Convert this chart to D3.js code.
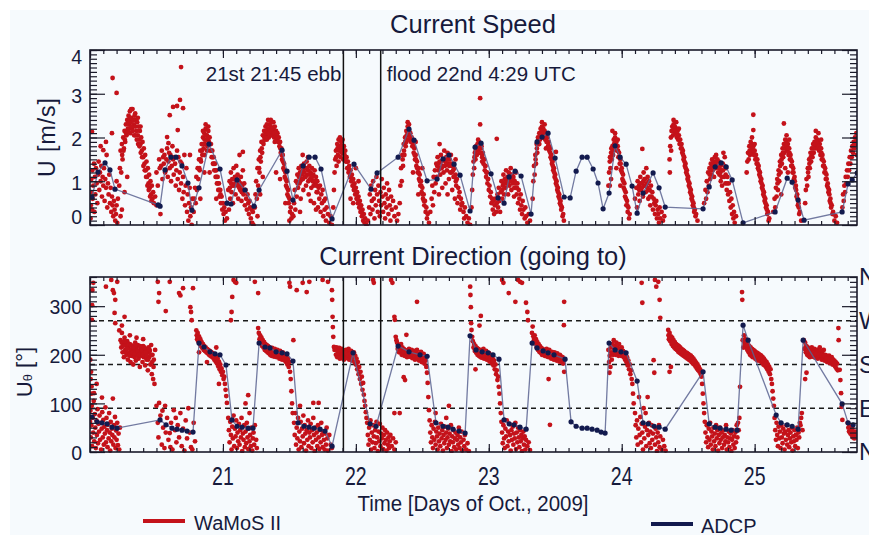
<!DOCTYPE html>
<html>
<head>
<meta charset="utf-8">
<script src="https://cdn.jsdelivr.net/npm/d3@7"></script>
<style>
  html, body { margin: 0; padding: 0; background: #ffffff; }
  svg text { font-family: "Liberation Sans", Arial, Helvetica, sans-serif; fill: #161a3c; }
</style>
</head>
<body>
<svg id="chart" width="869" height="535"></svg>
<script>
// ---------------- data ----------------
// Time axis in days of October 2009.
const dayTicks = [21, 22, 23, 24, 25];
const speedTicks = [0, 1, 2, 3, 4];
const dirTicks = [0, 100, 200, 300];
const compassValues = [360, 270, 180, 90, 0];
const compassLabels = ["N", "W", "S", "E", "N"];
const dirGuides = [90, 180, 270];

// Slack-water events (day + hour/24)
const eventTimes = [21 + 21.75 / 24, 22 + (4 + 29 / 60) / 24];
const eventLabels = ["21st 21:45 ebb", "flood 22nd 4:29 UTC"];

// ADCP current speed [day, m/s]
const adcpSpeed = [
  [20.015,0.64],[20.06,1.21],[20.113,1.42],[20.15,1.26],[20.188,0.82],[20.512,0.46],[20.527,0.43],
  [20.564,1.26],[20.609,1.55],[20.647,1.55],[20.692,1.35],[20.737,0.96],[20.767,0.34],[20.82,0.85],
  [20.895,1.85],[20.978,1.28],[21.031,0.50],[21.061,0.48],[21.106,1.03],[21.166,0.80],[21.234,0.43],
  [21.272,0.80],[21.445,1.71],[21.482,1.23],[21.527,0.57],[21.603,1.35],[21.648,1.55],[21.693,1.55],
  [21.738,1.28],[21.821,0.14],[21.986,1.39],[22.114,0.82],[22.16,1.19],[22.318,1.55],[22.40,2.19],
  [22.438,1.94],[22.536,1.01],[22.611,1.05],[22.656,1.51],[22.701,1.60],[22.739,1.39],[22.784,1.14],
  [22.859,0.32],[22.897,1.78],[22.942,1.87],[23.017,1.17],[23.07,0.62],[23.115,0.50],[23.153,1.10],
  [23.198,1.23],[23.243,1.12],[23.318,0.25],[23.363,1.90],[23.401,2.01],[23.446,2.10],[23.499,1.53],
  [23.567,0.64],[23.612,0.62],[23.657,1.23],[23.702,1.55],[23.74,1.55],[23.785,1.28],[23.822,0.96],
  [23.86,0.37],[23.905,0.73],[23.95,1.81],[23.988,1.55],[24.033,1.39],[24.078,0.89],[24.116,0.27],
  [24.161,0.73],[24.236,1.19],[24.281,0.85],[24.327,0.41],[24.612,0.37],[24.658,0.87],[24.703,1.33],
  [24.748,1.42],[24.786,1.33],[24.831,1.03],[24.913,0.05],[25.154,0.30],[25.245,1.07],[25.282,0.98],
  [25.327,0.57],[25.372,0.11],[25.658,0.30],[25.703,0.94],[25.734,1.03],[25.771,1.19]
];

// ADCP current direction (going to) [day, degrees]
const adcpDir = [
  [20.015,72],[20.053,62],[20.09,60],[20.128,58],[20.166,51],[20.203,49],[20.527,66],[20.572,56],
  [20.617,49],[20.655,47],[20.692,45],[20.73,43],[20.775,41],[20.82,224],[20.858,216],[20.903,206],
  [20.941,202],[20.978,200],[21.023,179],[21.068,66],[21.106,53],[21.144,51],[21.189,49],[21.226,49],
  [21.272,224],[21.317,216],[21.354,214],[21.40,206],[21.445,204],[21.482,202],[21.527,187],[21.565,60],
  [21.61,53],[21.648,51],[21.685,49],[21.731,47],[21.768,43],[21.821,12],[21.979,204],[22.107,58],
  [22.152,53],[22.318,218],[22.40,206],[22.483,200],[22.536,197],[22.603,60],[22.656,53],[22.694,51],
  [22.731,47],[22.777,43],[22.822,39],[22.859,239],[22.904,210],[22.95,206],[22.995,204],[23.032,200],
  [23.077,191],[23.115,66],[23.153,58],[23.19,56],[23.235,51],[23.281,47],[23.326,224],[23.363,214],
  [23.409,208],[23.446,204],[23.491,200],[23.574,191],[23.619,62],[23.657,53],[23.702,49],[23.74,49],
  [23.777,47],[23.815,45],[23.845,41],[23.875,39],[23.905,224],[23.95,210],[23.995,206],[24.033,204],
  [24.116,146],[24.161,60],[24.199,58],[24.244,53],[24.281,51],[24.327,47],[24.612,165],[24.658,58],
  [24.703,51],[24.74,49],[24.786,47],[24.823,45],[24.868,45],[24.913,261],[24.951,230],[25.162,76],
  [25.199,60],[25.245,56],[25.282,53],[25.327,47],[25.365,230],[25.658,99],[25.703,60],[25.741,56]
];

// WaMoS II radar current speed [day, m/s]
const wamosSpeedOct20 = [
  [20.004,0.15],[20.006,0.45],[20.008,0.75],[20.01,1.05],[20.015,2.13],[20.015,0.35],[20.018,1.25],[20.02,0.6],
  [20.025,0.9],[20.03,1.4],[20.033,0.3],[20.037,1.1],[20.04,0.7],[20.045,1.3],[20.05,0.95],[20.055,0.5],
  [20.06,1.15],[20.065,1.45],[20.07,0.8],[20.075,1.2],[20.08,1.0],[20.085,1.35],[20.09,0.65],[20.095,1.1],
  [20.1,0.9],[20.1,1.71],[20.105,1.3],[20.11,0.55],[20.115,1.05],[20.12,0.85],[20.125,1.6],[20.13,0.4],
  [20.135,0.95],[20.14,0.7],[20.145,1.15],[20.15,0.5],[20.155,0.85],[20.16,0.3],[20.165,0.65],[20.165,2.1],
  [20.17,3.36],[20.17,0.45],[20.175,0.2],[20.18,0.55],[20.185,0.35],[20.19,0.1],[20.195,0.25],[20.2,3.02],
  [20.2,0.45],[20.205,0.05],[20.08,1.8],[20.12,1.9],[20.21,0.6],[20.24,0.35],[20.26,0.75],[20.28,1.1],
  [20.23,0.2],[20.2,1.0],
  [20.22,0.9],[20.225,1.3],[20.23,1.7],[20.235,1.2],[20.24,1.85],[20.245,1.5],[20.25,2.0],[20.255,1.75],
  [20.26,2.15],[20.265,1.9],[20.27,2.3],[20.275,2.05],[20.28,2.4],[20.285,2.2],[20.29,2.5],[20.295,2.3],
  [20.3,2.6],[20.305,2.35],[20.31,2.45],[20.315,2.2],[20.32,2.65],[20.325,2.4],[20.33,2.3],[20.335,2.5],
  [20.34,2.25],[20.345,2.4],[20.35,2.15],[20.355,2.35],[20.36,2.05],[20.365,2.25],[20.37,1.95],[20.375,2.15],
  [20.38,1.85],[20.385,2.0],[20.39,1.7],[20.395,1.9],[20.4,1.55],[20.405,1.75],[20.41,1.4],[20.415,1.6],
  [20.42,1.25],[20.425,1.45],[20.43,1.1],[20.435,1.3],[20.44,0.95],[20.445,1.15],[20.45,0.85],[20.455,1.0],
  [20.46,0.7],[20.465,0.9],[20.47,0.6],[20.475,0.75],[20.48,0.5],[20.49,0.65],[20.5,0.45],
  [20.5,1.2],[20.51,0.9],[20.52,1.5],[20.525,1.3],[20.53,0.25],[20.535,1.35],[20.54,1.7],[20.545,1.05],
  [20.55,1.55],[20.555,1.4],[20.56,1.6],[20.565,1.2],[20.57,1.25],[20.575,1.5],[20.58,1.75],[20.585,1.1],
  [20.59,1.45],[20.595,1.65],[20.6,1.3],[20.605,1.6],[20.61,1.0],[20.615,1.35],[20.62,1.8],[20.625,1.5],
  [20.63,1.15],[20.635,1.55],[20.64,1.4],[20.645,0.9],[20.65,1.25],[20.655,1.7],[20.66,1.05],[20.665,1.55],
  [20.67,0.8],[20.675,1.2],[20.68,1.45],[20.685,0.95],[20.69,1.4],[20.695,0.6],[20.7,1.1],[20.705,0.75],
  [20.71,1.6],[20.715,0.45],[20.72,0.9],[20.725,1.3],[20.73,0.3],[20.735,0.7],[20.74,0.1],[20.745,0.5],
  [20.75,0.85],[20.755,0.2],[20.76,0.4],[20.765,0.0],[20.77,0.6],
  [20.58,2.01],[20.6,2.51],[20.625,2.7],[20.655,2.72],[20.66,2.17],[20.677,2.86],[20.685,3.61],[20.7,2.67],
  [20.752,1.6],[20.59,1.87],
  [20.78,0.3],[20.785,0.6],[20.79,0.85],[20.795,0.5],[20.8,1.1],[20.805,0.8],[20.81,1.3],[20.815,1.05],
  [20.82,1.5],[20.825,1.25],[20.83,1.7],[20.835,1.45],[20.84,1.85],[20.845,1.6],[20.85,2.0],[20.855,1.75],
  [20.86,2.1],[20.865,1.85],[20.87,2.2],[20.875,1.95],[20.88,2.05],[20.885,1.8],[20.89,2.15],[20.895,1.9],
  [20.9,2.0],[20.905,1.7],[20.91,1.85],[20.915,1.55],[20.92,1.7],[20.925,1.4],[20.93,1.55],[20.935,1.25],
  [20.94,1.4],[20.945,1.1],[20.95,1.25],[20.955,0.95],[20.96,1.1],[20.965,0.8],[20.97,0.95],[20.975,0.65],
  [20.98,0.8],[20.985,0.5],[20.99,0.65],[20.995,0.35],[20.83,0.6],[20.86,1.2],[20.9,1.2],[20.95,0.6]
];
const wamosSpeedOct21 = [
  [21.0,0.5],[21.005,0.25],[21.01,0.4],[21.015,0.1],[21.02,0.3],[21.03,0.15],
  [21.03,0.5],[21.04,0.8],[21.045,0.35],[21.05,1.0],[21.055,0.6],[21.06,1.2],[21.065,0.75],[21.07,1.05],
  [21.075,0.5],[21.08,1.3],[21.085,0.9],[21.09,1.1],[21.095,0.7],[21.1,1.35],[21.105,0.95],[21.11,1.15],
  [21.115,0.6],[21.12,1.0],[21.125,1.6],[21.13,0.8],[21.135,1.1],[21.14,0.55],[21.145,0.9],[21.15,1.25],
  [21.15,1.67],[21.155,0.7],[21.16,0.95],[21.165,0.45],[21.17,0.8],[21.175,0.6],[21.18,0.35],[21.185,0.7],
  [21.19,0.5],[21.195,0.25],[21.2,0.55],[21.205,0.4],[21.21,0.15],[21.215,0.35],[21.22,0.05],[21.225,0.3],
  [21.23,0.0],
  [21.24,0.4],[21.245,0.7],[21.25,1.0],[21.255,0.6],[21.26,1.3],[21.265,0.9],[21.27,1.5],[21.275,1.2],
  [21.28,1.7],[21.285,1.45],[21.29,1.9],[21.295,1.65],[21.3,2.05],[21.305,1.85],[21.31,2.15],[21.315,1.95],
  [21.32,2.25],[21.325,2.05],[21.33,2.3],[21.335,2.1],[21.34,2.2],[21.345,2.0],[21.35,2.3],[21.355,2.1],
  [21.36,2.25],[21.365,2.05],[21.37,2.35],[21.375,2.15],[21.38,2.2],[21.385,2.0],[21.39,2.25],[21.395,2.05],
  [21.4,2.15],[21.405,1.95],[21.41,2.1],[21.415,1.9],[21.42,2.0],[21.425,1.8],[21.43,1.9],[21.435,1.65],
  [21.44,1.75],[21.445,1.5],[21.45,1.6],[21.455,1.3],[21.46,1.4],[21.465,1.1],[21.47,1.2],[21.475,0.9],
  [21.48,1.0],[21.485,0.7],[21.49,0.8],[21.495,0.5],[21.5,0.6],[21.505,0.3],[21.51,0.4],[21.515,0.15],
  [21.52,0.25],[21.26,0.2],[21.28,0.7],[21.3,1.1],[21.47,0.5],[21.5,0.1],[21.4,1.2],[21.43,1.05],
  [21.53,0.2],[21.535,0.5],[21.54,0.8],[21.545,0.35],[21.55,1.0],[21.555,0.65],[21.56,1.15],[21.565,0.85],
  [21.57,1.3],[21.575,0.95],[21.58,1.2],[21.585,0.6],[21.59,1.35],[21.595,1.05],[21.6,1.25],[21.605,0.8],
  [21.61,1.4],[21.615,1.1],[21.62,1.3],[21.625,0.9],[21.63,1.45],[21.635,1.15],[21.64,1.25],[21.645,0.7],
  [21.65,1.35],[21.655,1.05],[21.66,1.2],[21.665,0.85],[21.67,1.3],[21.675,1.0],[21.68,1.15],[21.685,0.5],
  [21.69,1.25],[21.695,0.95],[21.7,1.1],[21.705,0.75],[21.71,1.0],[21.715,0.4],[21.72,0.85],[21.725,0.6],
  [21.73,0.9],[21.735,0.3],[21.74,0.7],[21.745,0.5],[21.75,0.8],[21.755,0.2],[21.76,0.55],[21.765,0.35],
  [21.77,0.6],[21.775,0.1],[21.78,0.4],[21.79,0.25],[21.8,0.05],[21.81,0.2],[21.82,0.0],
  [21.6,1.6],[21.64,1.55],[21.7,0.35],[21.66,0.55],[21.58,0.3],
  [21.83,0.4],[21.835,0.8],[21.84,1.2],[21.845,1.5],[21.85,1.7],[21.855,1.35],[21.86,1.85],[21.865,1.6],
  [21.87,1.95],[21.875,1.7],[21.88,1.8],[21.885,1.55],[21.89,1.9],[21.895,1.65],[21.9,1.75],[21.905,1.5],
  [21.91,1.8],[21.915,1.6],[21.92,1.7],[21.925,1.45],[21.93,1.55],[21.935,1.3],[21.94,1.45],[21.945,1.2],
  [21.95,1.35],[21.955,1.1],[21.96,1.25],[21.965,1.0],[21.97,1.15],[21.975,0.9],[21.98,1.05],[21.985,0.8],
  [21.99,0.95],[21.995,0.7],[21.96,0.6],[21.98,0.5]
];
const wamosSpeedOct22 = [
  [22.0,0.85],[22.005,0.6],[22.01,0.75],[22.015,0.5],[22.02,0.65],[22.025,0.4],[22.03,0.55],[22.035,0.3],
  [22.04,0.45],[22.045,0.2],[22.05,0.35],[22.055,0.1],[22.06,0.25],[22.065,0.05],[22.07,0.15],[22.08,0.0],
  [22.09,0.1],[22.0,1.3],[22.02,1.0],
  [22.1,0.4],[22.105,0.7],[22.11,0.25],[22.115,0.9],[22.12,0.55],[22.125,0.35],[22.13,1.0],[22.135,0.6],
  [22.14,0.15],[22.145,0.8],[22.15,0.45],[22.155,1.1],[22.16,0.7],[22.165,0.3],[22.17,0.9],[22.175,0.55],
  [22.18,0.2],[22.185,0.75],[22.19,0.45],[22.195,1.05],[22.2,0.65],[22.205,0.3],[22.21,0.85],[22.215,0.5],
  [22.22,0.15],[22.225,0.7],[22.23,0.4],[22.235,0.95],[22.24,0.6],[22.245,0.25],[22.25,0.8],[22.255,0.45],
  [22.26,0.1],[22.265,0.65],[22.27,0.35],[22.28,0.55],[22.29,0.2],[22.3,0.4],[22.31,0.1],[22.32,0.25],
  [22.33,0.5],[22.335,0.9],[22.34,1.3],[22.345,1.0],[22.35,1.6],[22.355,1.35],[22.36,1.85],[22.365,1.6],
  [22.37,2.0],[22.375,1.8],[22.38,2.15],[22.385,1.95],[22.39,2.25],[22.395,2.05],[22.4,2.15],[22.405,1.95],
  [22.41,2.1],[22.415,1.9],[22.42,2.0],[22.425,1.8],[22.43,1.9],[22.435,1.65],[22.44,1.75],[22.445,1.5],
  [22.45,1.6],[22.455,1.35],[22.46,1.45],[22.465,1.2],[22.47,1.3],[22.475,1.05],[22.48,1.15],[22.485,0.9],
  [22.49,1.0],[22.495,0.75],[22.5,0.85],[22.505,0.6],[22.51,0.7],[22.515,0.45],[22.52,0.55],[22.525,0.3],
  [22.53,0.4],[22.535,0.15],[22.54,0.25],[22.55,0.05],[22.43,1.2],[22.47,0.7],[22.45,1.9],[22.5,1.3],
  [22.56,0.3],[22.57,0.6],[22.575,0.9],[22.58,0.45],[22.585,1.1],[22.59,0.75],[22.595,1.25],[22.6,0.95],
  [22.605,1.4],[22.61,1.1],[22.615,1.55],[22.62,1.25],[22.625,0.7],[22.63,1.45],[22.635,1.15],[22.64,1.6],
  [22.645,1.3],[22.65,0.85],[22.655,1.5],[22.66,1.2],[22.665,1.7],[22.67,1.35],[22.675,0.95],[22.68,1.55],
  [22.685,1.25],[22.69,1.65],[22.695,1.4],[22.7,1.05],[22.705,1.5],[22.71,1.2],[22.715,1.6],[22.72,1.35],
  [22.725,0.8],[22.73,1.4],[22.735,1.1],[22.74,1.3],[22.745,0.6],[22.75,1.15],[22.755,0.9],[22.76,1.05],
  [22.765,0.5],[22.77,0.85],[22.775,0.65],[22.78,0.75],[22.785,0.35],[22.79,0.6],[22.795,0.45],[22.8,0.5],
  [22.81,0.3],[22.815,0.15],[22.82,0.4],[22.83,0.2],[22.84,0.05],[22.85,0.15],[22.86,0.0],
  [22.63,1.85],[22.69,0.7],[22.75,1.5],
  [22.87,0.4],[22.875,0.8],[22.88,1.15],[22.885,1.45],[22.89,1.3],[22.895,1.65],[22.9,1.5],[22.905,1.8],
  [22.91,1.6],[22.915,1.85],[22.92,1.7],[22.925,1.9],[22.93,1.75],[22.935,1.85],[22.94,1.65],[22.945,1.8],
  [22.95,1.55],[22.955,1.65],[22.96,1.4],[22.965,1.5],[22.97,1.25],[22.975,1.35],[22.98,1.1],[22.985,1.2],
  [22.99,0.95],[22.995,1.05],[22.935,2.9],[22.935,2.3]
];
const wamosSpeedOct23 = [
  [23.0,0.8],[23.005,0.9],[23.01,0.65],[23.06,1.97],
  [23.015,0.75],[23.02,0.5],[23.025,0.6],[23.03,0.35],[23.035,0.55],[23.04,0.25],[23.045,0.45],[23.05,0.6],
  [23.055,0.3],[23.06,0.5],[23.065,0.7],[23.07,0.4],[23.075,0.85],[23.08,0.55],[23.085,0.3],[23.09,0.75],
  [23.095,1.0],[23.1,0.6],[23.105,0.9],[23.11,1.15],[23.115,0.7],[23.12,1.05],[23.125,0.85],[23.13,1.25],
  [23.135,0.95],[23.14,1.1],[23.145,0.7],[23.15,1.2],[23.155,0.9],[23.16,1.05],[23.165,1.3],[23.17,0.8],
  [23.175,1.15],[23.18,0.95],[23.185,1.1],[23.19,0.65],[23.195,1.0],[23.2,0.85],[23.205,1.2],[23.21,0.7],
  [23.215,0.95],[23.22,0.5],[23.225,0.8],[23.23,0.6],[23.235,0.35],[23.24,0.7],[23.245,0.45],[23.25,0.25],
  [23.255,0.55],[23.26,0.35],[23.27,0.15],[23.275,0.4],[23.28,0.2],[23.29,0.05],[23.3,0.25],[23.31,0.1],
  [23.33,0.6],[23.335,1.0],[23.34,1.35],[23.345,1.15],[23.35,1.6],[23.355,1.4],[23.36,1.85],[23.365,1.65],
  [23.37,2.0],[23.375,1.85],[23.38,2.1],[23.385,1.95],[23.39,2.2],[23.395,2.0],[23.4,2.25],[23.405,2.05],
  [23.41,2.2],[23.415,2.0],[23.42,2.15],[23.425,1.95],[23.43,2.1],[23.435,1.9],[23.44,2.0],[23.445,1.8],
  [23.45,1.9],[23.455,1.7],[23.46,1.75],[23.465,1.55],[23.47,1.6],[23.475,1.4],[23.48,1.45],[23.485,1.25],
  [23.49,1.3],[23.495,1.1],[23.5,1.15],[23.505,0.95],[23.51,1.0],[23.515,0.8],[23.52,0.85],[23.525,0.65],
  [23.53,0.7],[23.535,0.5],[23.54,0.55],[23.545,0.35],[23.55,0.4],[23.555,0.2],[23.56,0.25],[23.565,0.1],
  [23.505,1.67],[23.43,1.75],
  [23.9,0.9],[23.905,1.2],[23.91,1.45],[23.915,1.3],[23.92,1.65],[23.925,1.5],[23.93,1.8],[23.935,1.6],
  [23.94,1.95],[23.945,1.75],[23.95,2.0],[23.955,1.8],[23.96,1.9],[23.965,1.7],[23.97,1.8],[23.975,1.55],
  [23.98,1.65],[23.985,1.4],[23.99,1.5],[23.995,1.25],[23.91,0.9],[23.92,1.05],[23.96,1.3],[23.99,0.9],
  [23.93,2.15]
];
const wamosSpeedOct24 = [
  [24.0,1.3],[24.005,1.05],[24.01,1.15],[24.015,0.85],[24.02,0.95],[24.025,0.65],[24.03,0.75],[24.035,0.45],
  [24.04,0.55],[24.045,0.3],[24.05,0.4],[24.055,0.15],[24.06,0.25],
  [24.1,0.6],[24.11,0.85],[24.115,0.4],[24.12,1.0],[24.125,0.7],[24.13,0.9],[24.135,0.55],[24.14,1.1],
  [24.145,0.8],[24.15,0.95],[24.155,1.74],[24.16,0.65],[24.165,1.2],[24.17,0.9],[24.175,1.05],[24.18,0.75],
  [24.185,1.3],[24.19,0.95],[24.195,1.1],[24.2,0.6],[24.205,1.0],[24.21,0.8],[24.215,0.45],[24.22,0.9],
  [24.225,0.65],[24.23,0.75],[24.235,0.35],[24.24,0.6],[24.245,0.5],[24.25,0.25],[24.255,0.45],[24.26,0.55],
  [24.265,0.15],[24.27,0.35],[24.275,0.25],[24.28,0.05],[24.285,0.4],[24.29,0.15],[24.3,0.3],[24.31,0.1],
  [24.32,0.2],
  [24.36,1.5],[24.362,1.2],[24.365,1.8],[24.37,2.0],[24.372,1.7],[24.375,2.15],[24.38,2.25],[24.385,2.05],
  [24.39,2.3],[24.395,2.15],[24.4,2.25],[24.405,2.1],[24.41,2.2],[24.415,2.0],[24.42,2.15],[24.425,1.95],
  [24.43,2.05],[24.435,1.85],[24.44,1.95],[24.445,1.75],[24.45,1.85],[24.455,1.65],[24.46,1.7],[24.465,1.5],
  [24.47,1.55],[24.475,1.35],[24.48,1.4],[24.485,1.2],[24.49,1.25],[24.495,1.05],[24.5,1.1],[24.505,0.9],
  [24.51,0.95],[24.515,0.75],[24.52,0.8],[24.525,0.6],[24.53,0.65],[24.535,0.45],[24.54,0.5],[24.545,0.3],
  [24.55,0.35],[24.555,0.2],[24.56,0.25],[24.57,0.1],
  [24.62,0.5],[24.63,0.8],[24.635,0.6],[24.64,1.0],[24.645,0.75],[24.65,1.2],[24.655,0.9],[24.66,1.3],
  [24.665,1.05],[24.67,1.4],[24.675,1.15],[24.68,1.5],[24.685,1.25],[24.69,1.45],[24.695,1.1],[24.7,1.55],
  [24.705,1.3],[24.71,1.6],[24.715,1.35],[24.72,1.5],[24.725,1.2],[24.73,1.45],[24.735,1.15],[24.74,1.35],
  [24.745,1.0],[24.75,1.25],[24.755,0.9],[24.76,1.4],[24.765,1.65],[24.77,1.1],[24.775,1.55],[24.78,0.95],
  [24.785,1.3],[24.79,0.8],[24.795,1.1],[24.8,0.7],[24.805,0.95],[24.81,0.55],[24.815,0.75],[24.82,0.4],
  [24.825,0.6],[24.83,0.25],[24.835,0.45],[24.84,0.15],[24.845,0.3],[24.85,0.05],[24.86,0.2],
  [24.94,1.2],[24.945,1.45],[24.95,1.65],[24.955,1.5],[24.96,1.8],[24.965,1.6],[24.97,1.9],[24.975,1.7],
  [24.98,1.85],[24.985,1.65],[24.99,1.8],[24.995,1.6],[24.99,2.52],[24.99,2.17]
];
const wamosSpeedOct25 = [
  [25.0,1.7],[25.005,1.5],[25.01,1.6],[25.015,1.4],[25.02,1.5],[25.025,1.3],[25.03,1.35],[25.035,1.15],
  [25.04,1.2],[25.045,1.0],[25.05,1.05],[25.055,0.85],[25.06,0.9],[25.065,0.7],[25.07,0.75],[25.075,0.55],
  [25.08,0.6],[25.085,0.4],[25.09,0.45],[25.095,0.25],[25.1,0.3],[25.105,0.1],[25.11,0.15],
  [25.14,0.3],[25.15,0.6],[25.155,0.4],[25.16,0.85],[25.165,0.65],[25.17,1.05],[25.175,0.8],[25.18,1.25],
  [25.185,1.0],[25.19,1.45],[25.195,1.2],[25.2,1.6],[25.205,1.4],[25.21,1.75],[25.215,1.55],[25.22,1.85],
  [25.225,1.65],[25.23,1.95],[25.235,1.75],[25.24,1.9],[25.245,1.7],[25.25,1.85],[25.255,1.6],[25.26,1.75],
  [25.265,1.5],[25.27,1.6],[25.275,1.35],[25.28,1.45],[25.285,1.2],[25.29,1.3],[25.295,1.05],[25.3,1.1],
  [25.305,0.85],[25.31,0.9],[25.315,0.65],[25.32,0.7],[25.325,0.45],[25.33,0.5],[25.335,0.25],[25.34,0.3],
  [25.35,0.1],[25.22,2.32],[25.2,0.7],[25.25,1.2],[25.23,1.3],
  [25.38,0.5],[25.385,0.8],[25.39,1.05],[25.395,0.9],[25.4,1.3],[25.405,1.1],[25.41,1.5],[25.415,1.3],
  [25.42,1.65],[25.425,1.45],[25.43,1.75],[25.435,1.55],[25.44,1.85],[25.445,1.65],[25.45,1.9],[25.455,1.75],
  [25.46,2.0],[25.465,1.8],[25.47,1.95],[25.475,1.75],[25.48,1.9],[25.485,1.7],[25.49,1.85],[25.495,1.6],
  [25.5,1.75],[25.505,1.5],[25.51,1.6],[25.515,1.35],[25.52,1.45],[25.525,1.2],[25.53,1.3],[25.535,1.05],
  [25.54,1.15],[25.545,0.9],[25.55,0.95],[25.555,0.75],[25.56,0.8],[25.565,0.55],[25.57,0.6],[25.575,0.4],
  [25.58,0.45],[25.585,0.25],[25.59,0.3],[25.6,0.1],[25.61,0.2],[25.62,0.05],
  [25.66,0.4],[25.665,0.7],[25.67,0.55],[25.675,0.9],[25.68,0.75],[25.685,1.1],[25.69,0.95],[25.695,1.25],
  [25.7,1.1],[25.705,1.4],[25.71,1.25],[25.715,1.55],[25.72,1.4],[25.725,1.7],[25.73,1.55],[25.735,1.8],
  [25.74,1.65],[25.745,1.9],[25.75,1.75],[25.755,2.0],[25.76,1.85],[25.765,2.1],[25.768,1.6],[25.77,1.95]
];
// Additional WaMoS II speed samples filling the body of each tidal cycle
const wamosSpeedMore = [
  [20.242,1.6],[20.252,1.7],[20.262,1.95],[20.272,2.1],[20.282,2.15],[20.292,2.2],[20.302,2.1],[20.312,2.25],
  [20.322,2.15],[20.332,2.05],[20.342,2.05],[20.352,1.95],[20.362,1.85],[20.372,1.8],[20.382,1.65],[20.392,1.55],
  [20.402,1.35],[20.412,1.25],[20.422,1.1],[20.432,0.9],[20.442,0.8],[20.452,0.65],[20.462,0.55],[20.3,2.45],
  [20.31,2.65],[20.29,2.35],[20.34,2.55],[20.36,2.45],[20.38,2.25],
  [20.822,1.3],[20.832,1.5],[20.842,1.7],[20.852,1.85],[20.862,1.95],[20.872,2.05],[20.882,1.95],[20.892,2.0],
  [20.902,1.85],[20.912,1.7],[20.922,1.55],[20.932,1.4],[20.942,1.25],[20.952,1.1],[20.962,0.95],[20.972,0.8],
  [20.982,0.7],[20.85,2.15],[20.87,2.3],[20.89,2.25],[20.86,1.6],[20.88,1.7],
  [21.052,0.85],[21.062,0.95],[21.072,0.9],[21.082,1.05],[21.092,0.95],[21.102,1.1],[21.112,0.9],[21.122,0.85],
  [21.132,0.95],[21.142,0.75],[21.152,0.8],
  [21.272,1.3],[21.282,1.55],[21.292,1.75],[21.302,1.9],[21.312,2.0],[21.322,2.1],[21.332,2.15],[21.342,2.1],
  [21.352,2.2],[21.362,2.15],[21.372,2.2],[21.382,2.1],[21.392,2.1],[21.402,2.05],[21.412,2.0],[21.422,1.9],
  [21.432,1.75],[21.442,1.6],[21.452,1.45],[21.462,1.25],[21.472,1.05],[21.482,0.85],[21.492,0.65],[21.34,2.4],
  [21.36,2.4],[21.38,2.35],[21.33,1.95],[21.39,1.9],
  [21.562,0.95],[21.572,1.1],[21.582,1.0],[21.592,1.15],[21.602,1.05],[21.612,1.2],[21.622,1.1],[21.632,1.3],
  [21.642,1.0],[21.652,1.15],[21.662,1.05],[21.672,1.1],[21.682,0.9],[21.692,1.0],[21.702,0.9],[21.712,0.75],
  [21.852,1.55],[21.862,1.75],[21.872,1.8],[21.882,1.7],[21.892,1.8],[21.902,1.65],[21.912,1.7],[21.922,1.55],
  [21.932,1.45],[21.942,1.3],[21.952,1.25],[21.962,1.1],[21.972,1.05],[21.982,0.9],[21.992,0.85],[22.002,0.7],
  [22.012,0.6],[22.022,0.5],[22.032,0.4],[22.042,0.3],[21.88,2.0],[21.9,1.95],[21.87,1.45],
  [22.352,1.5],[22.362,1.7],[22.372,1.9],[22.382,2.05],[22.392,2.1],[22.402,2.05],[22.412,2.0],[22.422,1.9],
  [22.432,1.8],[22.442,1.6],[22.452,1.5],[22.462,1.3],[22.472,1.2],[22.482,1.0],[22.492,0.9],[22.502,0.7],
  [22.512,0.55],[22.39,2.35],[22.4,2.3],[22.38,1.9],
  [22.612,1.35],[22.622,1.4],[22.632,1.3],[22.642,1.45],[22.652,1.35],[22.662,1.5],[22.672,1.45],[22.682,1.4],
  [22.692,1.5],[22.702,1.35],[22.712,1.4],[22.722,1.2],[22.732,1.25],[22.742,1.1],[22.752,1.0],
  [22.892,1.55],[22.902,1.7],[22.912,1.75],[22.922,1.8],[22.932,1.65],[22.942,1.75],[22.952,1.6],[22.962,1.5],
  [22.972,1.35],[22.982,1.2],[22.992,1.05],[22.92,1.95],[22.95,1.45],
  [23.102,0.8],[23.112,0.95],[23.122,0.95],[23.132,1.05],[23.142,0.95],[23.152,1.0],[23.162,1.15],[23.172,1.0],
  [23.182,1.05],[23.192,0.85],[23.202,0.95],[23.212,0.85],
  [23.352,1.5],[23.362,1.75],[23.372,1.95],[23.382,2.0],[23.392,2.1],[23.402,2.15],[23.412,2.1],[23.422,2.05],
  [23.432,2.0],[23.442,1.9],[23.452,1.8],[23.462,1.65],[23.472,1.5],[23.482,1.35],[23.492,1.2],[23.502,1.05],
  [23.512,0.9],[23.522,0.75],[23.532,0.6],[23.542,0.45],[23.4,2.35],[23.42,2.3],[23.38,1.85],
  [23.912,1.55],[23.922,1.75],[23.932,1.7],[23.942,1.85],[23.952,1.9],[23.962,1.8],[23.972,1.7],[23.982,1.55],
  [23.992,1.4],[24.002,1.2],[24.012,1.0],[24.022,0.8],[24.032,0.6],[24.042,0.45],[23.95,2.1],[23.97,1.95],
  [24.122,0.85],[24.132,0.8],[24.142,0.95],[24.152,0.85],[24.162,1.0],[24.172,1.05],[24.182,0.9],[24.192,0.85],
  [24.202,0.8],[24.212,0.65],
  [24.382,2.15],[24.392,2.2],[24.402,2.15],[24.412,2.1],[24.422,2.05],[24.432,1.95],[24.442,1.85],[24.452,1.75],
  [24.462,1.6],[24.472,1.45],[24.482,1.3],[24.492,1.15],[24.502,1.0],[24.512,0.85],[24.522,0.7],[24.532,0.55],
  [24.542,0.4],[24.39,2.4],[24.41,2.35],[24.43,2.2],
  [24.662,1.15],[24.672,1.25],[24.682,1.35],[24.692,1.3],[24.702,1.4],[24.712,1.45],[24.722,1.35],[24.732,1.3],
  [24.742,1.2],[24.752,1.1],[24.762,1.25],[24.772,1.35],[24.782,1.15],[24.792,0.95],
  [24.962,1.7],[24.972,1.8],[24.982,1.75],[24.992,1.7],[25.002,1.6],[25.012,1.5],[25.022,1.4],[25.032,1.25],
  [25.042,1.1],[25.052,0.95],[25.062,0.8],[25.072,0.65],[25.082,0.5],[25.092,0.35],[24.98,2.0],[25.0,1.85],
  [25.172,0.95],[25.182,1.15],[25.192,1.35],[25.202,1.5],[25.212,1.65],[25.222,1.75],[25.232,1.85],[25.242,1.8],
  [25.252,1.75],[25.262,1.65],[25.272,1.5],[25.282,1.35],[25.292,1.2],[25.302,1.0],[25.312,0.8],[25.322,0.6],
  [25.332,0.4],[25.24,2.05],[25.26,1.95],
  [25.402,1.2],[25.412,1.4],[25.422,1.55],[25.432,1.65],[25.442,1.75],[25.452,1.85],[25.462,1.9],[25.472,1.85],
  [25.482,1.8],[25.492,1.75],[25.502,1.65],[25.512,1.5],[25.522,1.35],[25.532,1.2],[25.542,1.05],[25.552,0.85],
  [25.562,0.7],[25.572,0.5],[25.46,2.15],[25.48,2.1],[25.5,1.95]
];

// WaMoS II radar current direction [day, degrees]
const wamosDirOct20 = [
  [20.0,62],[20.003,85],[20.006,30],[20.01,55],[20.013,95],[20.016,12],[20.02,70],[20.024,40],[20.028,105],
  [20.032,22],[20.036,78],[20.04,50],[20.044,8],[20.048,65],[20.052,35],[20.056,88],[20.06,18],[20.064,58],
  [20.068,42],[20.072,75],[20.076,25],[20.08,60],[20.084,5],[20.088,48],[20.092,82],[20.096,30],[20.1,66],
  [20.104,15],[20.108,52],[20.112,38],[20.116,92],[20.12,20],[20.124,70],[20.128,45],[20.132,10],[20.136,56],
  [20.14,28],[20.144,80],[20.148,40],[20.152,3],[20.156,62],[20.16,22],[20.164,48],[20.168,35],[20.172,110],
  [20.176,15],[20.18,55],[20.184,30],[20.188,72],[20.192,8],[20.196,44],[20.2,25],[20.205,60],[20.21,14],
  [20.215,38],[20.22,5],[20.225,50],
  [20.005,150],[20.008,165],[20.012,135],[20.014,272],[20.016,302],[20.018,333],[20.025,348],[20.03,121],
  [20.05,140],[20.09,112],[20.12,340],[20.16,354],[20.172,333],[20.18,327],[20.19,313],[20.185,286],
  [20.19,265],[20.205,350],[20.26,278],[20.002,190],[20.01,120],
  [20.23,230],[20.235,215],[20.24,245],[20.245,205],[20.25,225],[20.255,195],[20.26,235],[20.265,210],
  [20.27,220],[20.275,200],[20.28,228],[20.285,190],[20.29,215],[20.295,205],[20.3,222],[20.305,185],
  [20.31,210],[20.315,198],[20.32,218],[20.325,180],[20.33,208],[20.335,195],[20.34,225],[20.345,188],
  [20.35,212],[20.355,200],[20.36,220],[20.365,192],[20.37,208],[20.375,175],[20.38,215],[20.385,198],
  [20.39,205],[20.395,185],[20.4,218],[20.405,195],[20.41,210],[20.415,178],[20.42,212],[20.425,190],
  [20.43,205],[20.435,168],[20.44,215],[20.445,195],[20.45,208],[20.455,180],[20.46,220],[20.465,160],
  [20.47,200],[20.475,150],[20.48,190],[20.485,140],[20.49,210],[20.24,260],[20.22,250],
  [20.5,95],[20.51,60],[20.515,30],[20.52,101],[20.53,75],[20.54,15],[20.545,85],[20.55,50],[20.56,8],
  [20.565,95],[20.57,40],[20.58,70],[20.59,25],[20.6,39],[20.605,10],[20.61,60],[20.62,5],[20.63,86],
  [20.64,45],[20.645,70],[20.65,20],[20.66,55],[20.67,30],[20.68,80],[20.69,12],[20.7,48],[20.71,3],
  [20.72,65],[20.73,28],[20.74,90],[20.75,40],[20.76,10],[20.77,5],[20.78,60],[20.79,22],
  [20.51,350],[20.52,327],[20.515,309],[20.6,350],[20.67,327],[20.7,337],[20.68,322],[20.755,298],
  [20.76,288],[20.765,271],[20.775,337],[20.57,290],
  [20.8,250],[20.803,240],[20.806,232],[20.81,245],[20.815,228],[20.82,238],[20.825,222],[20.83,232],
  [20.835,218],[20.84,226],[20.845,214],[20.85,222],[20.855,210],[20.86,218],[20.865,208],[20.87,215],
  [20.875,205],[20.88,212],[20.885,203],[20.89,210],[20.895,200],[20.9,208],[20.905,198],[20.91,206],
  [20.915,196],[20.92,204],[20.925,194],[20.93,202],[20.935,190],[20.94,200],[20.945,186],[20.95,196],
  [20.955,182],[20.96,192],[20.965,176],[20.97,186],[20.975,170],[20.98,180],[20.985,165],[20.99,172],
  [20.995,158],[20.88,185],[20.95,215],[20.97,140],[20.82,205]
];
const wamosDirOct21 = [
  [21.0,165],[21.005,150],[21.01,155],[21.015,140],[21.02,128],[21.025,115],[21.03,101],
  [21.04,70],[21.045,45],[21.05,20],[21.055,62],[21.06,35],[21.065,5],[21.07,52],[21.075,28],[21.08,75],
  [21.085,12],[21.09,48],[21.095,32],[21.1,65],[21.105,8],[21.11,40],[21.115,22],[21.12,58],[21.125,15],
  [21.13,45],[21.135,30],[21.14,70],[21.145,2],[21.15,38],[21.155,25],[21.16,55],[21.165,10],[21.17,42],
  [21.175,18],[21.18,60],[21.185,30],[21.19,6],[21.195,48],[21.2,22],[21.205,35],[21.21,12],[21.215,50],
  [21.22,3],[21.225,28],[21.23,40],[21.235,15],[21.24,55],[21.25,25],[21.255,8],
  [21.065,288],[21.06,271],[21.07,319],[21.08,354],[21.09,350],[21.1,348],[21.19,117],[21.2,80],
  [21.24,350],[21.265,327],[21.17,100],
  [21.265,255],[21.27,245],[21.275,232],[21.28,240],[21.285,225],[21.29,235],[21.295,218],[21.3,230],
  [21.305,215],[21.31,226],[21.315,210],[21.32,222],[21.325,208],[21.33,220],[21.335,205],[21.34,218],
  [21.345,203],[21.35,215],[21.355,200],[21.36,212],[21.365,198],[21.37,214],[21.375,202],[21.38,210],
  [21.385,196],[21.39,212],[21.395,200],[21.4,208],[21.405,195],[21.41,210],[21.415,198],[21.42,206],
  [21.425,192],[21.43,208],[21.435,196],[21.44,204],[21.445,190],[21.45,205],[21.455,193],[21.46,202],
  [21.465,188],[21.47,200],[21.475,185],[21.48,198],[21.485,180],[21.49,192],[21.495,175],[21.5,185],
  [21.505,165],[21.51,150],[21.515,125],[21.52,100],[21.525,80],[21.53,230],[21.5,348],[21.505,340],
  [21.535,60],[21.54,35],[21.545,80],[21.55,15],[21.555,50],[21.56,28],[21.565,70],[21.57,5],[21.575,42],
  [21.58,22],[21.585,62],[21.59,10],[21.595,48],[21.6,32],[21.605,75],[21.61,18],[21.615,55],[21.62,38],
  [21.625,3],[21.63,45],[21.635,25],[21.64,65],[21.645,12],[21.65,40],[21.655,30],[21.66,58],[21.665,8],
  [21.67,45],[21.675,20],[21.68,70],[21.685,35],[21.69,2],[21.695,50],[21.7,25],[21.705,40],[21.71,12],
  [21.715,55],[21.72,30],[21.725,6],[21.73,45],[21.735,20],[21.74,60],[21.745,35],[21.75,10],[21.755,42],
  [21.76,25],[21.765,5],[21.77,38],[21.775,15],[21.78,50],[21.785,28],[21.79,3],[21.8,35],[21.81,15],
  [21.82,8],
  [21.555,333],[21.6,348],[21.63,329],[21.65,350],[21.68,101],[21.72,101],[21.75,354],[21.79,350],
  [21.82,333],[21.822,313],[21.825,278],[21.827,257],[21.83,237],[21.835,216],[21.84,210],[21.58,95],
  [21.845,212],[21.85,200],[21.855,215],[21.86,195],[21.865,208],[21.87,198],[21.875,214],[21.88,192],
  [21.885,205],[21.89,200],[21.895,212],[21.9,195],[21.905,208],[21.91,190],[21.915,204],[21.92,198],
  [21.925,210],[21.93,193],[21.935,205],[21.94,198],[21.945,212],[21.95,190],[21.955,203],[21.96,196],
  [21.965,208],[21.97,188],[21.975,200],[21.98,195],[21.985,205],[21.99,185],[21.995,198]
];
const wamosDirOct22 = [
  [22.0,180],[22.005,192],[22.01,170],[22.015,185],[22.02,160],[22.025,175],[22.03,150],[22.035,165],
  [22.04,140],[22.045,155],[22.05,128],[22.055,142],[22.06,118],[22.065,105],[22.07,95],[22.075,82],
  [22.08,70],
  [22.085,60],[22.09,35],[22.095,15],[22.1,50],[22.105,25],[22.11,65],[22.115,5],[22.12,40],[22.125,20],
  [22.13,55],[22.135,32],[22.14,8],[22.145,45],[22.15,18],[22.155,62],[22.16,30],[22.165,2],[22.17,42],
  [22.175,22],[22.18,58],[22.185,12],[22.19,38],[22.195,28],[22.2,50],[22.205,6],[22.21,35],[22.215,18],
  [22.22,45],[22.225,25],[22.23,3],[22.235,40],[22.24,15],[22.245,30],[22.25,8],[22.255,22],[22.26,35],
  [22.27,12],[22.28,28],[22.29,5],[22.3,20],
  [22.13,354],[22.135,348],[22.265,354],[22.275,348],[22.29,278],[22.293,272],[22.3,237],[22.305,230],
  [22.29,80],
  [22.31,225],[22.315,212],[22.32,220],[22.325,205],[22.33,218],[22.335,208],[22.34,222],[22.345,200],
  [22.35,215],[22.355,205],[22.36,212],[22.365,198],[22.37,210],[22.375,202],[22.38,241],[22.385,195],
  [22.39,208],[22.395,200],[22.4,212],[22.405,196],[22.41,206],[22.415,200],[22.42,210],[22.425,193],
  [22.43,205],[22.435,198],[22.44,208],[22.445,190],[22.45,204],[22.455,196],[22.46,210],[22.465,192],
  [22.47,202],[22.475,188],[22.48,200],[22.485,194],[22.49,206],[22.495,185],[22.5,198],[22.505,190],
  [22.51,202],[22.515,182],[22.52,195],[22.525,188],[22.53,175],[22.535,163],[22.54,142],[22.545,113],
  [22.55,86],[22.36,154],[22.37,148],[22.46,309],[22.33,80],
  [22.555,65],[22.56,40],[22.565,20],[22.57,55],[22.575,30],[22.58,8],[22.585,48],[22.59,25],[22.595,62],
  [22.6,15],[22.605,42],[22.61,32],[22.615,5],[22.62,50],[22.625,22],[22.63,38],[22.635,12],[22.64,58],
  [22.645,28],[22.65,45],[22.655,3],[22.66,35],[22.665,18],[22.67,52],[22.675,25],[22.68,40],[22.685,8],
  [22.69,30],[22.695,48],[22.7,15],[22.705,38],[22.71,22],[22.715,55],[22.72,2],[22.725,32],[22.73,20],
  [22.735,45],[22.74,10],[22.745,28],[22.75,40],[22.755,5],[22.76,25],[22.765,35],[22.77,15],[22.775,50],
  [22.78,8],[22.785,30],[22.79,20],[22.795,42],[22.8,3],[22.81,25],[22.815,12],[22.82,35],[22.83,5],
  [22.84,18],[22.85,2],[22.6,80],[22.7,95],[22.68,70],
  [22.86,340],[22.862,323],[22.865,298],[22.867,265],[22.87,251],[22.875,237],[22.88,228],[22.885,215],
  [22.89,222],[22.895,208],[22.9,218],[22.905,204],[22.91,214],[22.915,200],[22.92,212],[22.925,198],
  [22.93,208],[22.935,196],[22.94,210],[22.945,194],[22.95,205],[22.955,198],[22.96,212],[22.965,192],
  [22.97,204],[22.975,196],[22.98,208],[22.985,190],[22.99,200],[22.995,194],[22.9,170],[22.93,260],
  [22.94,280]
];
const wamosDirOct23 = [
  [23.0,204],[23.005,186],[23.01,198],[23.015,190],[23.02,200],[23.025,182],[23.03,192],[23.035,178],
  [23.04,188],[23.045,170],[23.05,180],[23.055,160],[23.06,168],[23.065,148],[23.07,155],[23.075,134],
  [23.08,120],[23.085,100],[23.09,80],
  [23.095,62],[23.1,40],[23.105,18],[23.11,55],[23.115,28],[23.12,8],[23.125,48],[23.13,32],[23.135,65],
  [23.14,12],[23.145,42],[23.15,22],[23.155,58],[23.16,35],[23.165,3],[23.17,45],[23.175,25],[23.18,52],
  [23.185,15],[23.19,38],[23.195,28],[23.2,60],[23.205,6],[23.21,40],[23.215,20],[23.22,50],[23.225,30],
  [23.23,10],[23.235,45],[23.24,22],[23.245,35],[23.25,2],[23.255,28],[23.26,42],[23.265,15],[23.27,32],
  [23.275,5],[23.28,25],[23.29,12],[23.3,20],[23.31,4],
  [23.1,354],[23.11,348],[23.15,327],[23.2,309],[23.22,354],[23.235,350],[23.25,348],[23.28,307],
  [23.29,288],[23.295,271],
  [23.325,245],[23.33,258],[23.335,238],[23.34,230],[23.345,240],[23.35,222],[23.355,232],[23.36,215],
  [23.365,226],[23.37,210],[23.375,222],[23.38,206],[23.385,218],[23.39,204],[23.395,214],[23.4,200],
  [23.405,212],[23.41,202],[23.415,210],[23.42,198],[23.425,208],[23.43,200],[23.435,212],[23.44,196],
  [23.445,206],[23.45,195],[23.455,210],[23.46,198],[23.465,204],[23.47,192],[23.475,206],[23.48,196],
  [23.485,202],[23.49,190],[23.495,205],[23.5,194],[23.505,200],[23.51,188],[23.515,203],[23.52,192],
  [23.525,198],[23.53,186],[23.535,200],[23.54,190],[23.545,196],[23.55,185],[23.555,195],[23.56,182],
  [23.565,190],[23.567,309],[23.565,261],[23.567,165],[23.46,56],[23.45,150],
  [23.9,210],[23.905,185],[23.908,163],[23.91,198],[23.915,175],[23.92,215],[23.925,190],[23.93,222],
  [23.935,200],[23.94,230],[23.945,205],[23.95,218],[23.955,200],[23.96,225],[23.965,205],[23.97,215],
  [23.975,198],[23.98,222],[23.985,205],[23.99,212],[23.995,198]
];
const wamosDirOct24 = [
  [24.0,215],[24.005,200],[24.01,208],[24.015,195],[24.02,205],[24.025,190],[24.03,200],[24.035,185],
  [24.04,195],[24.045,178],[24.05,188],[24.055,170],[24.06,180],[24.065,160],[24.07,168],[24.075,150],
  [24.08,140],[24.085,120],[24.09,100],
  [24.1,80],[24.105,55],[24.11,30],[24.115,65],[24.12,15],[24.125,48],[24.13,113],[24.135,35],[24.14,72],
  [24.145,20],[24.15,58],[24.155,40],[24.16,5],[24.165,90],[24.17,28],[24.175,52],[24.18,80],[24.185,12],
  [24.19,45],[24.195,113],[24.2,35],[24.205,60],[24.21,18],[24.215,42],[24.22,8],[24.225,55],[24.23,25],
  [24.235,38],[24.24,189],[24.245,163],[24.25,15],[24.255,48],[24.26,30],[24.265,2],[24.27,40],[24.275,20],
  [24.28,55],[24.285,10],[24.29,32],[24.3,5],[24.31,25],[24.32,12],[24.33,3],
  [24.15,348],[24.155,307],[24.25,354],[24.26,340],[24.275,350],[24.285,313],[24.29,276],
  [24.35,251],[24.352,240],[24.355,232],[24.36,245],[24.365,228],[24.37,238],[24.375,222],[24.38,235],
  [24.385,218],[24.39,230],[24.395,215],[24.4,226],[24.405,212],[24.41,222],[24.415,210],[24.42,220],
  [24.425,206],[24.43,218],[24.435,204],[24.44,215],[24.445,202],[24.45,212],[24.455,200],[24.46,210],
  [24.465,198],[24.47,208],[24.475,196],[24.48,205],[24.485,194],[24.49,204],[24.495,192],[24.5,202],
  [24.505,190],[24.51,200],[24.515,188],[24.52,198],[24.525,185],[24.53,195],[24.535,182],[24.54,192],
  [24.545,180],[24.55,188],[24.555,176],[24.56,184],[24.565,172],[24.57,180],[24.575,168],[24.58,175],
  [24.585,165],[24.59,170],[24.595,160],[24.6,155],[24.605,140],[24.61,120],[24.615,100],[24.62,80],
  [24.36,165],[24.37,175],
  [24.625,62],[24.63,40],[24.635,20],[24.64,55],[24.645,30],[24.65,10],[24.655,48],[24.66,25],[24.665,60],
  [24.67,15],[24.675,42],[24.68,32],[24.685,5],[24.69,50],[24.695,22],[24.7,38],[24.705,12],[24.71,55],
  [24.715,28],[24.72,45],[24.725,3],[24.73,35],[24.735,18],[24.74,50],[24.745,25],[24.75,40],[24.755,8],
  [24.76,30],[24.765,45],[24.77,15],[24.775,35],[24.78,22],[24.785,55],[24.79,5],[24.795,30],[24.8,20],
  [24.805,42],[24.81,10],[24.815,28],[24.82,38],[24.825,2],[24.83,25],[24.835,45],[24.84,15],[24.845,32],
  [24.85,8],[24.855,40],[24.86,20],[24.865,55],[24.87,30],[24.875,60],[24.88,45],[24.885,70],[24.89,134],
  [24.905,329],[24.907,313],
  [24.91,230],[24.915,215],[24.92,240],[24.925,222],[24.93,232],[24.935,215],[24.94,228],[24.945,210],
  [24.95,222],[24.955,205],[24.96,218],[24.965,200],[24.97,215],[24.975,198],[24.98,212],[24.985,195],
  [24.99,210],[24.995,196]
];
const wamosDirOct25 = [
  [25.0,208],[25.005,192],[25.01,205],[25.015,190],[25.02,204],[25.025,188],[25.03,202],[25.035,190],
  [25.04,200],[25.045,186],[25.05,198],[25.055,184],[25.06,195],[25.065,180],[25.07,192],[25.075,178],
  [25.08,188],[25.085,175],[25.09,185],[25.095,170],[25.1,180],[25.105,165],[25.11,175],[25.115,160],
  [25.12,170],[25.125,150],[25.13,140],[25.135,125],[25.14,110],[25.145,95],
  [25.15,70],[25.155,45],[25.16,25],[25.165,60],[25.17,35],[25.175,12],[25.18,52],[25.185,28],[25.19,42],
  [25.195,8],[25.2,55],[25.205,30],[25.21,18],[25.215,48],[25.22,38],[25.225,5],[25.23,42],[25.235,25],
  [25.24,55],[25.245,15],[25.25,35],[25.255,45],[25.26,10],[25.265,28],[25.27,40],[25.275,20],[25.28,50],
  [25.285,3],[25.29,32],[25.295,22],[25.3,45],[25.305,12],[25.31,35],[25.315,25],[25.32,50],[25.325,8],
  [25.33,40],[25.335,30],[25.34,60],[25.345,55],[25.35,70],[25.355,80],[25.36,45],
  [25.37,230],[25.375,212],[25.38,225],[25.385,205],[25.39,218],[25.395,200],[25.4,215],[25.405,198],
  [25.41,212],[25.415,195],[25.42,210],[25.425,200],[25.43,215],[25.435,196],[25.44,208],[25.445,200],
  [25.45,212],[25.455,194],[25.46,205],[25.465,198],[25.47,210],[25.475,192],[25.48,205],[25.485,196],
  [25.49,215],[25.495,198],[25.5,208],[25.505,190],[25.51,203],[25.515,195],[25.52,210],[25.525,188],
  [25.53,200],[25.535,192],[25.54,198],[25.545,185],[25.55,195],[25.555,188],[25.56,198],[25.565,183],
  [25.57,193],[25.575,186],[25.58,195],[25.585,180],[25.59,190],[25.595,182],[25.6,188],[25.605,176],
  [25.61,185],[25.615,172],[25.62,182],[25.625,168],[25.63,255],[25.632,230],[25.64,169],[25.645,148],
  [25.65,121],[25.655,93],[25.66,66],[25.39,163],[25.38,150],
  [25.7,60],[25.705,50],[25.71,42],[25.715,55],[25.72,38],[25.725,45],[25.73,35],[25.735,48],[25.74,30],
  [25.745,40],[25.75,28],[25.755,42],[25.76,32],[25.765,38],[25.77,30]
];
// Additional WaMoS II direction samples inside the ebb plateaus
const wamosDirMore = [
  [20.238,225],[20.248,218],[20.258,228],[20.268,205],[20.278,212],[20.288,222],[20.298,198],[20.308,220],
  [20.318,205],[20.328,215],[20.338,202],[20.348,220],[20.358,208],[20.368,200],[20.378,218],[20.388,210],
  [20.398,200],[20.408,215],[20.418,205],[20.428,198],[20.438,190],[20.448,210],[20.458,200],[20.468,185],
  [20.478,175],[20.3,240],[20.35,235],[20.4,232],
  [20.812,236],[20.832,225],[20.852,216],[20.872,210],[20.892,205],[20.912,200],[20.932,196],[20.952,190],
  [21.282,232],[21.302,222],[21.322,215],[21.342,210],[21.362,206],[21.382,204],[21.402,202],[21.422,200],
  [21.442,198],[21.462,195],[21.482,190],
  [21.862,203],[21.882,206],[21.902,201],[21.922,204],[21.942,200],[21.962,202],[21.982,198],
  [22.322,214],[22.342,210],[22.362,206],[22.382,204],[22.402,203],[22.422,201],[22.442,199],[22.462,198],
  [22.482,196],[22.502,194],
  [22.892,214],[22.912,207],[22.932,202],[22.952,200],[22.972,198],[22.992,196],[23.012,192],[23.032,186],
  [23.342,234],[23.362,221],[23.382,212],[23.402,206],[23.422,203],[23.442,201],[23.462,200],[23.482,199],
  [23.502,197],[23.522,195],[23.542,193],
  [23.922,205],[23.942,214],[23.962,212],[23.982,210],[24.002,206],[24.022,198],[24.042,188],
  [24.362,236],[24.382,226],[24.402,219],[24.422,213],[24.442,208],[24.462,204],[24.482,200],[24.502,196],
  [24.522,191],[24.542,186],[24.562,178],
  [24.922,228],[24.942,219],[24.962,209],[24.982,204],[25.002,200],[25.022,196],[25.042,193],[25.062,188],
  [25.082,181],[25.102,172],
  [25.382,215],[25.402,207],[25.422,205],[25.442,204],[25.462,202],[25.482,200],[25.502,199],[25.522,198],
  [25.542,192],[25.562,190],[25.582,187],[25.602,183]
];

// ---------------- layout ----------------
const W = 869, H = 535;
const left = 90, right = 857;
const speedTop = 50, speedBottom = 225;
const dirTop = 277, dirBottom = 452;

const RED = "#c4121a";
const NAVY = "#121a4e";

const svg = d3.select("#chart");
svg.append("rect").attr("width", W).attr("height", H).attr("fill", "#ffffff");
svg.append("rect").attr("x", 10).attr("y", 10).attr("width", W - 10).attr("height", H - 10).attr("fill", "#f6fafd");

const x = d3.scaleLinear().domain([20, 25.77]).range([left, right]);
const ySpeed = d3.scaleLinear().domain([0, 4]).range([speedBottom, speedTop]);
const yDir = d3.scaleLinear().domain([0, 360]).range([dirBottom, dirTop]);

const minorDays = d3.range(200, 258).map(d => d / 10);

const defs = svg.append("defs");
function clipFor(id, top, bottom) {
  defs.append("clipPath").attr("id", id)
    .append("rect").attr("x", left).attr("y", top - 1).attr("width", right - left).attr("height", bottom - top + 2);
  return `url(#${id})`;
}

function frameTicks(g, y, top, bottom, minorY, majorY) {
  const tickStyle = sel => {
    sel.select(".domain").remove();
    sel.selectAll(".tick line").attr("stroke", "#1a1a2a").attr("stroke-width", 1.2);
  };
  // time ticks on bottom and top edges, pointing inward
  g.append("g").attr("transform", `translate(0,${bottom})`)
    .call(d3.axisBottom(x).tickValues(minorDays).tickSize(-4).tickFormat("")).call(tickStyle);
  g.append("g").attr("transform", `translate(0,${bottom})`)
    .call(d3.axisBottom(x).tickValues(d3.range(20, 26)).tickSize(-8).tickFormat("")).call(tickStyle);
  g.append("g").attr("transform", `translate(0,${top})`)
    .call(d3.axisTop(x).tickValues(minorDays).tickSize(-4).tickFormat("")).call(tickStyle);
  g.append("g").attr("transform", `translate(0,${top})`)
    .call(d3.axisTop(x).tickValues(d3.range(20, 26)).tickSize(-8).tickFormat("")).call(tickStyle);
  // value ticks on left and right edges, pointing inward
  g.append("g").attr("transform", `translate(${left},0)`)
    .call(d3.axisLeft(y).tickValues(minorY).tickSize(-7).tickFormat("")).call(tickStyle);
  g.append("g").attr("transform", `translate(${left},0)`)
    .call(d3.axisLeft(y).tickValues(majorY).tickSize(-15).tickFormat("")).call(tickStyle);
  g.append("g").attr("transform", `translate(${right},0)`)
    .call(d3.axisRight(y).tickValues(minorY).tickSize(-7).tickFormat("")).call(tickStyle);
  g.append("g").attr("transform", `translate(${right},0)`)
    .call(d3.axisRight(y).tickValues(majorY).tickSize(-15).tickFormat("")).call(tickStyle);
  g.append("rect").attr("x", left).attr("y", top).attr("width", right - left).attr("height", bottom - top)
    .attr("fill", "none").attr("stroke", "#1a1a2a").attr("stroke-width", 1.6);
}

function drawSeries(g, y, clip, wamos, adcp) {
  const pg = g.append("g").attr("clip-path", clip);
  pg.append("g").selectAll("circle").data(wamos).join("circle")
    .attr("cx", d => x(d[0])).attr("cy", d => y(d[1])).attr("r", 2.4).attr("fill", RED);
  pg.append("path").datum(adcp)
    .attr("d", d3.line().x(d => x(d[0])).y(d => y(d[1])))
    .attr("fill", "none").attr("stroke", "#5a6390").attr("stroke-width", 1.3).attr("stroke-opacity", 0.85);
  pg.append("g").selectAll("circle").data(adcp).join("circle")
    .attr("cx", d => x(d[0])).attr("cy", d => y(d[1])).attr("r", 2.6).attr("fill", NAVY);
}

function eventLines(g, top, bottom) {
  g.selectAll(null).data(eventTimes).join("line")
    .attr("x1", d => x(d)).attr("x2", d => x(d)).attr("y1", top).attr("y2", bottom)
    .attr("stroke", "#111111").attr("stroke-width", 1.5);
}

// ---------------- speed panel ----------------
const gS = svg.append("g");
const speedData = [].concat(wamosSpeedOct20, wamosSpeedOct21, wamosSpeedOct22,
  wamosSpeedOct23, wamosSpeedOct24, wamosSpeedOct25, wamosSpeedMore);
drawSeries(gS, ySpeed, clipFor("clipSpeed", speedTop, speedBottom), speedData, adcpSpeed);
eventLines(gS, speedTop, speedBottom);
frameTicks(gS, ySpeed, speedTop, speedBottom, d3.range(0, 41).map(d => d / 10), speedTicks);

gS.selectAll(null).data(speedTicks).join("text")
  .attr("x", left - 8)
  .attr("y", d => Math.min(speedBottom - 8, Math.max(speedTop + 7.5, ySpeed(d) + 2)))
  .attr("dy", "0.35em").attr("text-anchor", "end").attr("font-size", 19.5).text(d => d);

gS.append("text").attr("transform", "translate(55,137) rotate(-90)")
  .attr("text-anchor", "middle").attr("font-size", 23).attr("letter-spacing", 1).text("U [m/s]");

gS.append("text").attr("x", x(eventTimes[0]) - 2).attr("y", 81)
  .attr("text-anchor", "end").attr("font-size", 20.5).text(eventLabels[0]);
gS.append("text").attr("x", x(eventTimes[1]) + 6).attr("y", 81)
  .attr("text-anchor", "start").attr("font-size", 20.5).text(eventLabels[1]);

svg.append("text").attr("x", 473).attr("y", 33).attr("text-anchor", "middle")
  .attr("font-size", 25.5).text("Current Speed");

// ---------------- direction panel ----------------
const gD = svg.append("g");
const dirData = [].concat(wamosDirOct20, wamosDirOct21, wamosDirOct22,
  wamosDirOct23, wamosDirOct24, wamosDirOct25, wamosDirMore);
gD.selectAll(null).data(dirGuides).join("line")
  .attr("x1", left).attr("x2", right).attr("y1", d => yDir(d)).attr("y2", d => yDir(d))
  .attr("stroke", "#1a1a1a").attr("stroke-width", 1.3).attr("stroke-dasharray", "5,4");
drawSeries(gD, yDir, clipFor("clipDir", dirTop, dirBottom), dirData, adcpDir);
eventLines(gD, dirTop, dirBottom);
frameTicks(gD, yDir, dirTop, dirBottom, d3.range(0, 361, 10), dirTicks);

gD.selectAll(null).data(dirTicks).join("text")
  .attr("x", left - 8).attr("y", d => yDir(d) + 1.5)
  .attr("dy", "0.35em").attr("text-anchor", "end").attr("font-size", 19.5).text(d => d);

// Compass letters sit just outside the right frame edge
gD.selectAll(null).data(compassValues).join("text")
  .attr("x", 859).attr("y", d => yDir(d))
  .attr("dy", "0.35em").attr("font-size", 24).text((d, i) => compassLabels[i]);

const dirLabel = gD.append("text").attr("transform", "translate(32,372) rotate(-90)")
  .attr("text-anchor", "middle").attr("font-size", 22);
dirLabel.append("tspan").text("U");
dirLabel.append("tspan").attr("font-size", 13).text("\u03b8");
dirLabel.append("tspan").text(" [\u00b0]");

svg.append("text").attr("x", 473).attr("y", 265).attr("text-anchor", "middle")
  .attr("font-size", 25.5).text("Current Direction (going to)");

// ---------------- time axis labels ----------------
svg.selectAll(null).data(dayTicks).join("text")
  .attr("transform", d => `translate(${x(d)},485) scale(0.78,1)`)
  .attr("text-anchor", "middle").attr("font-size", 25).text(d => d);

svg.append("text").attr("transform", "translate(473,511) scale(0.93,1)")
  .attr("text-anchor", "middle").attr("font-size", 22).text("Time [Days of Oct., 2009]");

// ---------------- legend ----------------
const legend = [
  { name: "WaMoS II", color: RED, x0: 143, y: 521, tx: 194, ty: 530 },
  { name: "ADCP", color: NAVY, x0: 651, y: 524, tx: 701, ty: 533 }
];
const lg = svg.append("g");
lg.selectAll("line").data(legend).join("line")
  .attr("x1", d => d.x0).attr("x2", d => d.x0 + 42).attr("y1", d => d.y).attr("y2", d => d.y)
  .attr("stroke", d => d.color).attr("stroke-width", 4);
lg.selectAll("text").data(legend).join("text")
  .attr("x", d => d.tx).attr("y", d => d.ty).attr("font-size", 20).text(d => d.name);
</script>
</body>
</html>
